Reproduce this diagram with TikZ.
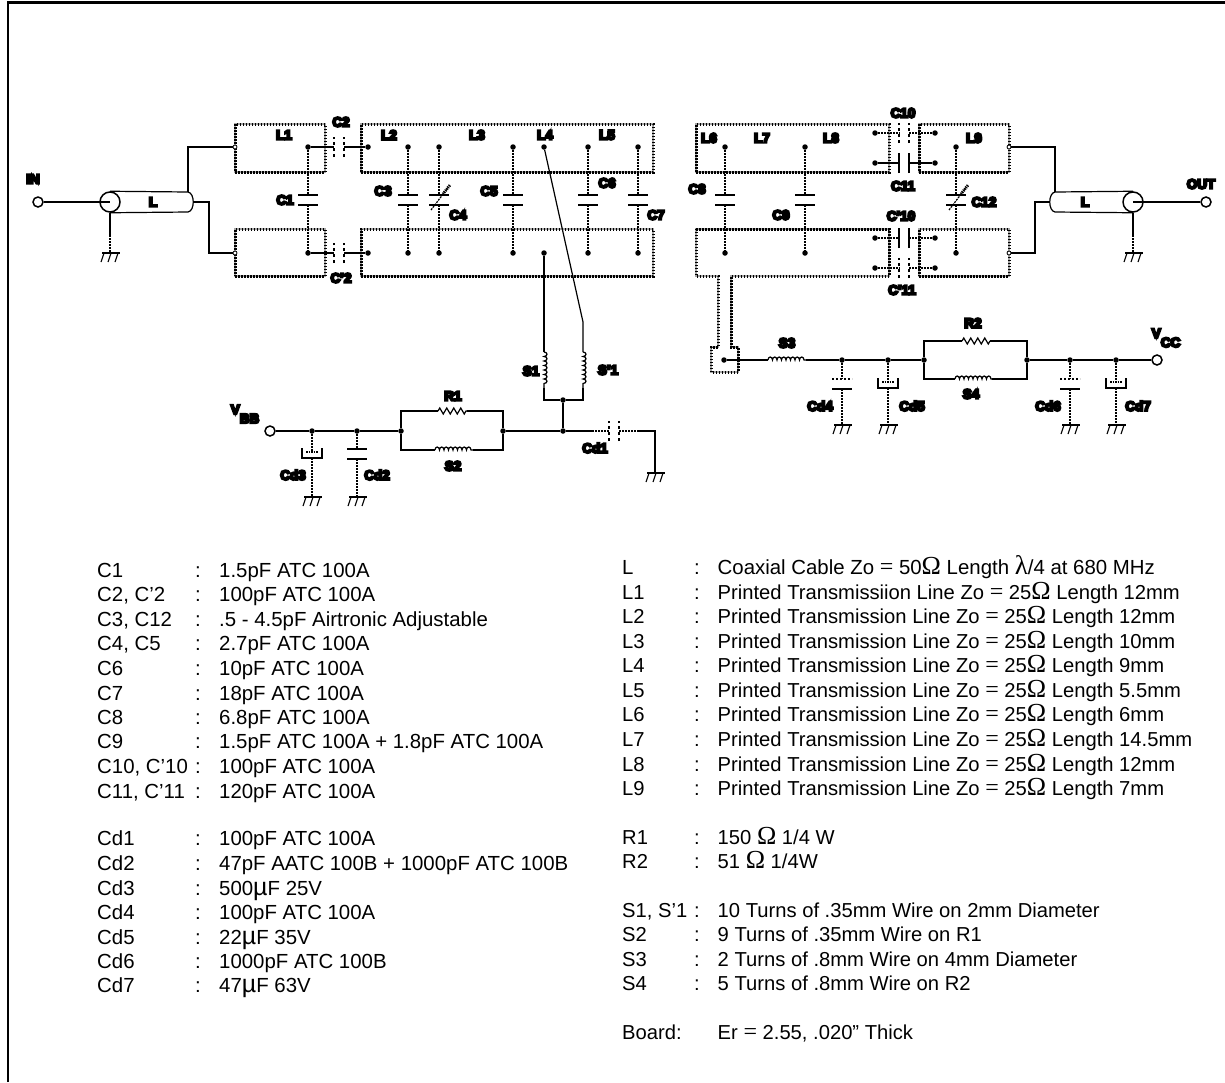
\documentclass[tikz,border=0pt]{standalone}
\usepackage{fontspec}
\setmainfont{Liberation Sans}
\newfontfamily\symfont{Liberation Serif}
\newfontfamily\blobfont[FakeBold=16]{Liberation Sans Bold}
\usetikzlibrary{decorations.pathmorphing}

\newcommand{\Om}{{\symfont\fontsize{26}{26}\selectfont Ω}}
\newcommand{\lam}{{\symfont\fontsize{27}{26}\selectfont λ}}
\newcommand{\mic}{{\fontsize{25}{26}\selectfont µ}}
\newcommand{\eq}{{\symfont\fontsize{24}{26}\selectfont =}}
\newcommand{\lrow}[2]{\makebox[98pt][l]{#1}\makebox[24pt][l]{:}#2}
\newcommand{\rrow}[2]{\makebox[72pt][l]{#1}\makebox[23.5pt][l]{:}#2}
\newcommand{\tline}[2]{Printed #1 Line Zo \eq{} 25\Om{} Length #2}

\tikzset{
  wire/.style={line width=1.2pt},
  lead/.style={line width=1.2pt,dash pattern=on 2pt off 1pt},
  plate/.style={line width=1.1pt},
  pcb/.style={line width=3pt,dash pattern=on 1.5pt off 1.5pt,draw=black,preaction={draw=black!35,solid,line width=2.6pt}},
  dot/.style={circle,fill=black,inner sep=0pt,minimum size=5.5pt},
  pad/.style={circle,draw,fill=white,inner sep=0pt,minimum size=4pt,line width=0.8pt},
  port/.style={circle,draw,fill=white,inner sep=0pt,minimum size=10pt,line width=1.5pt},
  lab/.style={font=\blobfont\fontsize{13.5}{13.5}\selectfont,inner sep=0pt},
  item/.style={anchor=base west,inner sep=0pt,font=\fontsize{20.4}{24}\selectfont},
  itemr/.style={item,font=\fontsize{20.2}{24}\selectfont},
  coilwire/.style={wire,decorate,decoration={bumps,segment length=9pt,amplitude=3pt}},
  reswire/.style={wire,decorate,decoration={zigzag,segment length=7pt,amplitude=3pt}},
  pics/capv/.style={code={
    \draw[plate] (-10,-5) -- (10,-5) (-10,5) -- (10,5);
    \coordinate (-top) at (0,-5);
    \coordinate (-bot) at (0,5);
  }},
  pics/capd/.style={code={
    \draw[plate,dash pattern=on 2pt off 2pt] (-10,-5) -- (10,-5);
    \draw[plate] (-10,5) -- (10,5);
    \coordinate (-top) at (0,-5);
    \coordinate (-bot) at (0,5);
  }},
  pics/cup/.style={code={
    \draw[plate] (-10,-5) -- (-10,5) -- (10,5) -- (10,-5);
    \draw[plate,dash pattern=on 1.5pt off 1pt] (-6,-1) -- (6,-1);
    \coordinate (-top) at (0,-1);
    \coordinate (-bot) at (0,5);
  }},
  pics/gnd/.style={code={
    \draw[plate] (-8,0) -- (10,0);
    \draw[plate] (-6,0) -- (-9,9) (1,0) -- (-2,9) (8,0) -- (5,9);
  }},
  pics/tune/.style={code={
    \draw[lead] (-8,10) -- (11,-15);
    \draw[line width=3pt,dash pattern=on 1pt off 1pt] (4,-6) -- (11,-15);
  }},
}

\begin{document}
\begin{tikzpicture}[x=1pt,y=-1pt]

\useasboundingbox (0,0) rectangle (1225,1082);
\draw [line width=2.5pt] (8,1082) -- (8,2.5) -- (1225,2.5);

% printed lines
\node [pcb,draw,minimum width=90pt,minimum height=48pt,inner sep=0pt] (boxa) at (280,148) {};
\node [pcb,draw,minimum width=90pt,minimum height=47pt,inner sep=0pt] (boxb) at (280,252.5) {};
\node [pcb,draw,minimum width=292pt,minimum height=48pt,inner sep=0pt] (boxc) at (507,148) {};
\node [pcb,draw,minimum width=292pt,minimum height=47pt,inner sep=0pt] (boxd) at (507,252.5) {};
\node [pcb,draw,minimum width=193pt,minimum height=48pt,inner sep=0pt] (boxe) at (792.5,148) {};
\draw [pcb] (696,229) -- (889,229) -- (889,276) -- (731,276) -- (731,347) -- (738,347) -- (738,372)
  -- (711,372) -- (711,347) -- (718,347) -- (718,276) -- (696,276) -- cycle;
\node [pcb,draw,minimum width=90pt,minimum height=48pt,inner sep=0pt] (boxf) at (964,148) {};
\node [pcb,draw,minimum width=90pt,minimum height=47pt,inner sep=0pt] (boxg) at (964,252.5) {};

% input coax
\node [port] (in) at (38,202) {};
\node [circle,draw,line width=1.5pt,minimum size=20pt,inner sep=0pt] (coaxa) at (110,202) {};
\coordinate (coaxat) at (188,192);
\coordinate (coaxab) at (188,212);
\coordinate (coaxae) at (194,202);
\draw [wire] (coaxa.north) -- (coaxat) .. controls (195,193) and (195,211) .. (coaxab) -- (coaxa.south);
\draw [wire] (in) -- (coaxa.center);
\node [pad] (pa) at (235,147) {};
\node [pad] (pb) at (235,253) {};
\draw [wire] (coaxat) |- (pa);
\draw [wire] (coaxae) -- (209,202) |- (pb);
\coordinate (gnda) at (110,253);
\draw [wire] (coaxa.south) -- (110,235);
\draw [lead] (110,235) -- (gnda);
\pic at (gnda) {gnd};

% output coax
\node [port] (out) at (1206,202) {};
\node [circle,draw,line width=1.5pt,minimum size=20pt,inner sep=0pt] (coaxb) at (1133,202) {};
\coordinate (coaxbt) at (1055,192);
\coordinate (coaxbb) at (1055,212);
\coordinate (coaxbe) at (1049,202);
\draw [wire] (coaxb.north) -- (coaxbt) .. controls (1048,193) and (1048,211) .. (coaxbb) -- (coaxb.south);
\draw [wire] (out) -- (coaxb.center);
\node [pad] (pc) at (1009,147) {};
\node [pad] (pd) at (1009,253) {};
\draw [wire] (coaxbt) |- (pc);
\draw [wire] (coaxbe) -- (1035,202) |- (pd);
\coordinate (gndb) at (1133,253);
\draw [wire] (coaxb.south) -- (1133,235);
\draw [lead] (1133,235) -- (gndb);
\pic at (gndb) {gnd};

% dots on the lines
\node [dot] (ta) at (308,147) {};
\node [dot] (tb) at (368,147) {};
\node [dot] (tc) at (408,147) {};
\node [dot] (td) at (439,147) {};
\node [dot] (te) at (513,147) {};
\node [dot] (tf) at (544,147) {};
\node [dot] (tg) at (588,147) {};
\node [dot] (th) at (638,147) {};
\node [dot] (ti) at (725,147) {};
\node [dot] (tj) at (805,147) {};
\node [dot] (tk) at (956,147) {};
\node [dot] (ba) at (308,253) {};
\node [dot] (bb) at (368,253) {};
\node [dot] (bc) at (408,253) {};
\node [dot] (bd) at (439,253) {};
\node [dot] (be) at (513,253) {};
\node [dot] (bf) at (544,253) {};
\node [dot] (bg) at (588,253) {};
\node [dot] (bh) at (638,253) {};
\node [dot] (bi) at (725,253) {};
\node [dot] (bj) at (805,253) {};
\node [dot] (bk) at (956,253) {};

% capacitors between the lines
\pic (Cone) at (308,200) {capv};
\pic (Cthree) at (408,200) {capv};
\pic (Cfour) at (439,200) {capv};
\pic (Cfive) at (513,200) {capv};
\pic (Csix) at (588,200) {capv};
\pic (Cseven) at (638,200) {capv};
\pic (Ceight) at (725,200) {capv};
\pic (Cnine) at (805,200) {capv};
\pic (Ctw) at (956,200) {capv};
\pic at (439,200) {tune};
\pic at (957,200) {tune};
\draw [lead] (ta) -- (Cone-top) (Cone-bot) -- (ba);
\draw [lead] (tc) -- (Cthree-top) (Cthree-bot) -- (bc);
\draw [lead] (td) -- (Cfour-top) (Cfour-bot) -- (bd);
\draw [lead] (te) -- (Cfive-top) (Cfive-bot) -- (be);
\draw [lead] (tg) -- (Csix-top) (Csix-bot) -- (bg);
\draw [lead] (th) -- (Cseven-top) (Cseven-bot) -- (bh);
\draw [lead] (ti) -- (Ceight-top) (Ceight-bot) -- (bi);
\draw [lead] (tj) -- (Cnine-top) (Cnine-bot) -- (bj);
\draw [lead] (tk) -- (Ctw-top) (Ctw-bot) -- (bk);

% series capacitors
\pic [rotate=90,dashed] (Ctwo) at (339,147) {capv};
\pic [rotate=90,dashed] (Cptwo) at (339,253) {capv};
\draw [wire] (ta) -- (Ctwo-top) (Ctwo-bot) -- (tb);
\draw [wire] (ba) -- (Cptwo-top) (Cptwo-bot) -- (bb);

\node [dot] (ua) at (875,133) {};
\node [dot] (ub) at (935,133) {};
\node [dot] (uc) at (875,163) {};
\node [dot] (ud) at (935,163) {};
\node [dot] (va) at (875,238) {};
\node [dot] (vb) at (935,238) {};
\node [dot] (vc) at (875,268) {};
\node [dot] (vd) at (935,268) {};
\pic [rotate=90,dashed] (Cten) at (904,133) {capv};
\pic [rotate=90] (Celv) at (904,163) {capv};
\pic [rotate=90] (Cpten) at (904,238) {capv};
\pic [rotate=90,dashed] (Cpelv) at (904,268) {capv};
\draw [lead] (ua) -- (Cten-top) (Cten-bot) -- (ub);
\draw [plate] (uc) -- (Celv-top) (Celv-bot) -- (ud);
\draw [lead] (va) -- (Cpten-top) (Cpten-bot) -- (vb);
\draw [lead] (vc) -- (Cpelv-top) (Cpelv-bot) -- (vd);

% left bias
\coordinate (sat) at (544,352);
\coordinate (sab) at (544,388);
\coordinate (sbt) at (583,352);
\coordinate (sbb) at (583,388);
\coordinate (bend) at (583,322);
\node [dot] (bus) at (563,400) {};
\node [dot] (na) at (563,431) {};
\node [dot] (nb) at (503,431) {};
\node [dot] (nc) at (401,431) {};
\node [dot] (nd) at (357,431) {};
\node [dot] (ne) at (312,431) {};
\node [port] (vbb) at (270,431) {};
\draw [wire] (bf) -- (sat);
\draw [coilwire] (sat) -- (sab);
\draw [wire] (sab) |- (bus);
\draw [wire] (tf) -- (bend) -- (sbt);
\draw [coilwire] (sbt) -- (sbb);
\draw [wire] (sbb) |- (bus);
\draw [wire] (bus) -- (na);
\draw [wire] (vbb) -- (ne) -- (nd) -- (nc);
\draw [wire] (nb) -- (na);
\coordinate (raa) at (438,411);
\coordinate (rab) at (467,411);
\coordinate (saa) at (435,450);
\coordinate (sac) at (473,450);
\draw [wire] (nc) |- (raa);
\draw [reswire] (raa) -- (rab);
\draw [wire] (rab) -| (nb);
\draw [wire] (nc) |- (saa);
\draw [coilwire] (saa) -- (sac);
\draw [wire] (sac) -| (nb);

\pic [rotate=90,dashed] (Cdone) at (614,431) {capv};
\coordinate (cda) at (592,431);
\coordinate (cdb) at (637,431);
\coordinate (gndc) at (655,473);
\draw [wire] (na) -- (cda);
\draw [lead] (cda) -- (Cdone-top) (Cdone-bot) -- (cdb);
\draw [wire] (cdb) -| (gndc);
\pic at (gndc) {gnd};

\pic (Cdthree) at (312,453) {cup};
\pic (Cdtwo) at (357,454) {capv};
\coordinate (gndd) at (312,497);
\coordinate (gnde) at (357,497);
\draw [lead] (ne) -- (Cdthree-top) (Cdthree-bot) -- (gndd);
\draw [lead] (nd) -- (Cdtwo-top) (Cdtwo-bot) -- (gnde);
\pic at (gndd) {gnd};
\pic at (gnde) {gnd};

% right bias
\node [dot] (pada) at (724,360) {};
\node [dot] (ma) at (842,360) {};
\node [dot] (mb) at (888,360) {};
\node [dot] (mc) at (924,360) {};
\node [dot] (md) at (1027,360) {};
\node [dot] (me) at (1070,360) {};
\node [dot] (mf) at (1116,360) {};
\node [port] (vcc) at (1157,360) {};
\coordinate (sca) at (768,360);
\coordinate (scb) at (806,360);
\draw [wire] (pada) -- (sca);
\draw [coilwire] (sca) -- (scb);
\draw [wire] (scb) -- (ma) -- (mb) -- (mc);
\draw [wire] (md) -- (me) -- (mf) -- (vcc);
\coordinate (rba) at (962,341);
\coordinate (rbb) at (990,341);
\coordinate (sda) at (955,379);
\coordinate (sdb) at (992,379);
\draw [wire] (mc) |- (rba);
\draw [reswire] (rba) -- (rbb);
\draw [wire] (rbb) -| (md);
\draw [wire] (mc) |- (sda);
\draw [coilwire] (sda) -- (sdb);
\draw [wire] (sdb) -| (md);

\pic (Cdfour) at (842,384) {capd};
\pic (Cdfive) at (888,383) {cup};
\pic (Cdsix) at (1070,384) {capd};
\pic (Cdsev) at (1116,383) {cup};
\coordinate (gndf) at (842,425);
\coordinate (gndg) at (888,425);
\coordinate (gndh) at (1070,425);
\coordinate (gndi) at (1116,425);
\draw [lead] (ma) -- (Cdfour-top) (Cdfour-bot) -- (gndf);
\draw [lead] (mb) -- (Cdfive-top) (Cdfive-bot) -- (gndg);
\draw [lead] (me) -- (Cdsix-top) (Cdsix-bot) -- (gndh);
\draw [lead] (mf) -- (Cdsev-top) (Cdsev-bot) -- (gndi);
\pic at (gndf) {gnd};
\pic at (gndg) {gnd};
\pic at (gndh) {gnd};
\pic at (gndi) {gnd};

% labels on the circuit
\node [lab] (lin) at (33,179) {IN};
\node [lab] (lout) at (1201,184) {OUT};
\node [lab] (lcoaxa) at (153,202) {L};
\node [lab] (lcoaxb) at (1085,202) {L};
\node [lab] (la1) at (284,135) {L1};
\node [lab] (la2) at (389,135) {L2};
\node [lab] (la3) at (477,135) {L3};
\node [lab] (la4) at (545,135) {L4};
\node [lab] (la5) at (607,135) {L5};
\node [lab] (la6) at (709,138) {L6};
\node [lab] (la7) at (762,138) {L7};
\node [lab] (la8) at (831,138) {L8};
\node [lab] (la9) at (974,138) {L9};
\node [lab] (lc1) at (285,200) {C1};
\node [lab] (lc2) at (341,122) {C2};
\node [lab] (lcp2) at (341,278) {C’2};
\node [lab] (lc3) at (383,191) {C3};
\node [lab] (lc4) at (458,215) {C4};
\node [lab] (lc5) at (489,191) {C5};
\node [lab] (lc6) at (607,183) {C6};
\node [lab] (lc7) at (656,215) {C7};
\node [lab] (lc8) at (697,189) {C8};
\node [lab] (lc9) at (781,215) {C9};
\node [lab] (lc10) at (903,113) {C10};
\node [lab] (lc11) at (903,186) {C11};
\node [lab] (lcp10) at (901,216) {C’10};
\node [lab] (lcp11) at (902,290) {C’11};
\node [lab] (lc12) at (984,202) {C12};
\node [lab] (ls1) at (531,371) {S1};
\node [lab] (lsp1) at (608,370) {S’1};
\node [lab] (ls2) at (453,466) {S2};
\node [lab] (ls3) at (787,343) {S3};
\node [lab] (ls4) at (971,394) {S4};
\node [lab] (lr1) at (453,396) {R1};
\node [lab] (lr2) at (973,323) {R2};
\node [lab] (lcd1) at (595,448) {Cd1};
\node [lab] (lcd2) at (377,475) {Cd2};
\node [lab] (lcd3) at (293,475) {Cd3};
\node [lab] (lcd4) at (820,406) {Cd4};
\node [lab] (lcd5) at (912,406) {Cd5};
\node [lab] (lcd6) at (1048,406) {Cd6};
\node [lab] (lcd7) at (1138,406) {Cd7};
\node [lab] (lvbb) at (245,414) {V\raisebox{-9pt}{BB}};
\node [lab] (lvcc) at (1166,338) {V\raisebox{-9pt}{CC}};

% parts list, left column
\node [item] (ic1) at (97,577) {\lrow{C1}{1.5pF ATC 100A}};
\node [item] (ic2) at (97,601) {\lrow{C2, C’2}{100pF ATC 100A}};
\node [item] (ic3) at (97,626) {\lrow{C3, C12}{.5 - 4.5pF Airtronic Adjustable}};
\node [item] (ic4) at (97,650) {\lrow{C4, C5}{2.7pF ATC 100A}};
\node [item] (ic6) at (97,675) {\lrow{C6}{10pF ATC 100A}};
\node [item] (ic7) at (97,700) {\lrow{C7}{18pF ATC 100A}};
\node [item] (ic8) at (97,724) {\lrow{C8}{6.8pF ATC 100A}};
\node [item] (ic9) at (97,748) {\lrow{C9}{1.5pF ATC 100A + 1.8pF ATC 100A}};
\node [item] (ic10) at (97,773) {\lrow{C10, C’10}{100pF ATC 100A}};
\node [item] (ic11) at (97,798) {\lrow{C11, C’11}{120pF ATC 100A}};
\node [item] (icd1) at (97,845) {\lrow{Cd1}{100pF ATC 100A}};
\node [item] (icd2) at (97,870) {\lrow{Cd2}{47pF AATC 100B + 1000pF ATC 100B}};
\node [item] (icd3) at (97,895) {\lrow{Cd3}{500\mic{}F 25V}};
\node [item] (icd4) at (97,919) {\lrow{Cd4}{100pF ATC 100A}};
\node [item] (icd5) at (97,944) {\lrow{Cd5}{22\mic{}F 35V}};
\node [item] (icd6) at (97,968) {\lrow{Cd6}{1000pF ATC 100B}};
\node [item] (icd7) at (97,992) {\lrow{Cd7}{47\mic{}F 63V}};

% parts list, right column
\node [item] (il) at (622,574.5) {\rrow{L}{Coaxial Cable Zo \eq{} 50\Om{} Length \lam{}/4 at 680 MHz}};
\node [itemr] (il1) at (622,599) {\rrow{L1}{\tline{Transmissiion}{12mm}}};
\node [itemr] (il2) at (622,623) {\rrow{L2}{\tline{Transmission}{12mm}}};
\node [itemr] (il3) at (622,648) {\rrow{L3}{\tline{Transmission}{10mm}}};
\node [itemr] (il4) at (622,672) {\rrow{L4}{\tline{Transmission}{9mm}}};
\node [itemr] (il5) at (622,697) {\rrow{L5}{\tline{Transmission}{5.5mm}}};
\node [itemr] (il6) at (622,721.5) {\rrow{L6}{\tline{Transmission}{6mm}}};
\node [itemr] (il7) at (622,746) {\rrow{L7}{\tline{Transmission}{14.5mm}}};
\node [itemr] (il8) at (622,771) {\rrow{L8}{\tline{Transmission}{12mm}}};
\node [itemr] (il9) at (622,795) {\rrow{L9}{\tline{Transmission}{7mm}}};
\node [itemr] (ir1) at (622,844) {\rrow{R1}{150 \Om{} 1/4 W}};
\node [itemr] (ir2) at (622,868) {\rrow{R2}{51 \Om{} 1/4W}};
\node [itemr] (is1) at (622,917.5) {\rrow{S1, S’1}{10 Turns of .35mm Wire on 2mm Diameter}};
\node [itemr] (is2) at (622,941.5) {\rrow{S2}{9 Turns of .35mm Wire on R1}};
\node [itemr] (is3) at (622,966) {\rrow{S3}{2 Turns of .8mm Wire on 4mm Diameter}};
\node [itemr] (is4) at (622,990.5) {\rrow{S4}{5 Turns of .8mm Wire on R2}};
\node [itemr] (ibd) at (622,1039.5) {\makebox[95.5pt][l]{Board:}Er \eq{} 2.55, .020” Thick};

\end{tikzpicture}
\end{document}
